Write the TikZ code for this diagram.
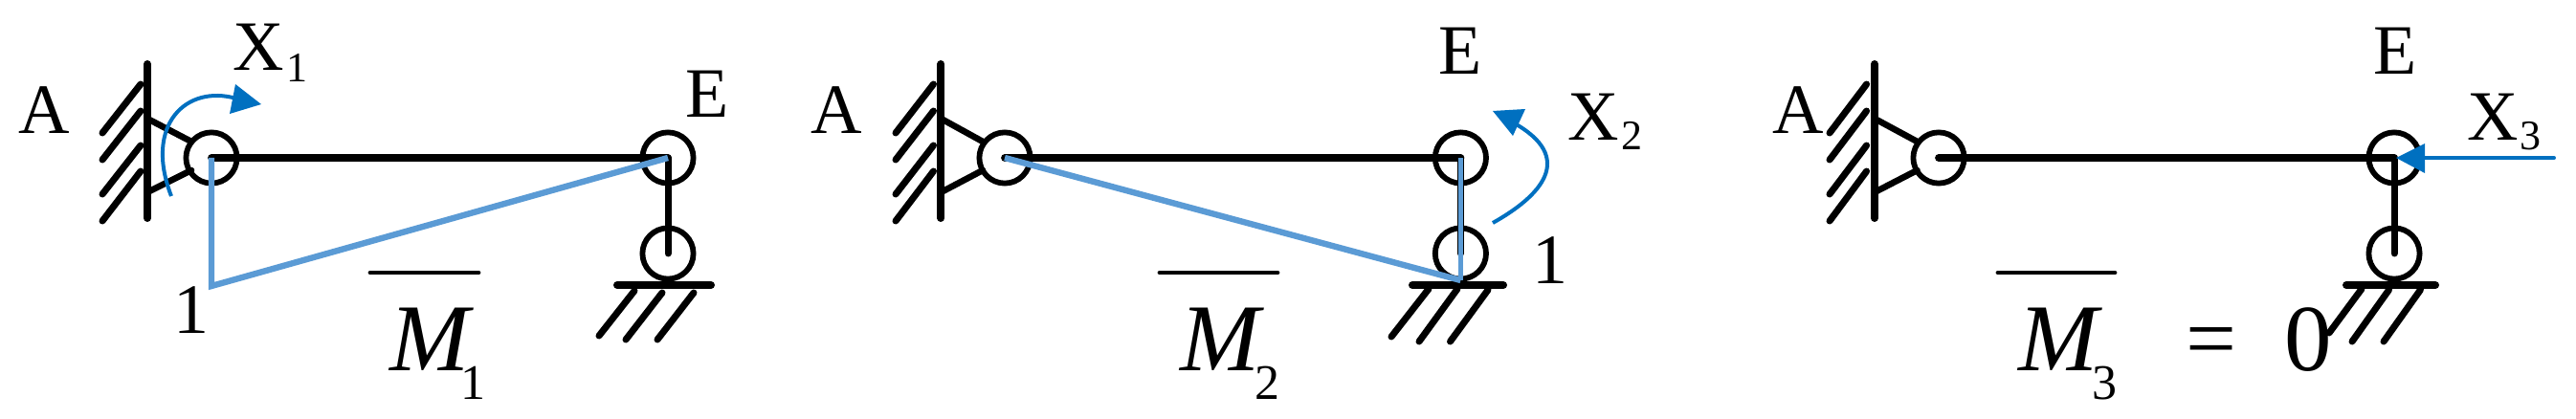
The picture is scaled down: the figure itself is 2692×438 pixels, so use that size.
\documentclass[tikz,border=0pt]{standalone}
\usepackage{fontspec}
\setmainfont{Liberation Serif}
\definecolor{mline}{HTML}{5B9BD5}
\definecolor{force}{HTML}{0070C0}
\newcommand{\panelframe}[9]{%
  % #1 tag, #2 wall x, #3 hatch top x, #4 hatch bottom x, #5 link end x, #6 hinge A x, #7 E x, #8 base left, #9 base right
  \draw[wallline] (#2,67) -- (#2,228);
  \draw[hatchline] (#3,88) -- (#4,139);
  \draw[hatchline] (#3,116) -- (#4,167);
  \draw[hatchline] (#3,152) -- (#4,203);
  \draw[hatchline] (#3,179) -- (#4,231);
  \node[hinge] (a#1) at (#6,165) {};
  \node[hinge] (e#1) at (#7,165) {};
  \node[hinge] (r#1) at (#7,265) {};
  \draw[linkline] (#2,124) -- (#5,148);
  \draw[linkline] (#2,201) -- (#5,178);
  \draw[beamline] (a#1.center) -- (e#1.center);
  \draw[hatchline] (e#1.center) -- (r#1.center);
  \draw[wallline] (#8,298) -- (#9,298);
}
% M with its lowered index: #1 kern, #2 index
\newcommand{\momentname}[2]{\textit{M}\kern#1\raisebox{-15pt}{\fontsize{26}{26}\selectfont #2}}
\tikzset{
  x=0.5pt,y=-0.5pt,
  wallline/.style={line width=4pt,line cap=round,black},
  linkline/.style={line width=3.3pt,line cap=round,black},
  hatchline/.style={line width=3.5pt,line cap=round,black},
  beamline/.style={line width=3.9pt,line cap=round,black},
  hinge/.style={circle,draw=black,line width=2.9pt,minimum size=26.6pt,inner sep=0pt},
  bline/.style={line width=3.2pt,mline,line join=miter},
  fshaft/.style={line width=2pt,force},
  ftip/.style={fill=force,draw=none},
  barline/.style={line width=2.4pt,line cap=round,black},
  big/.style={anchor=base,inner sep=0pt,font=\fontsize{37}{37}\selectfont},
  sub/.style={anchor=base,inner sep=0pt,font=\fontsize{22}{22}\selectfont},
  mm/.style={anchor=base west,inner sep=0pt,font=\fontsize{50}{50}\selectfont},
  huge0/.style={anchor=base,inner sep=0pt,font=\fontsize{49.5}{50}\selectfont},
  eqsign/.style={anchor=base,inner sep=0pt,font=\fontsize{47}{47}\selectfont},
}
\begin{document}
\begin{tikzpicture}
\useasboundingbox (0,0) rectangle (2692,438);
% panel 1
\panelframe{1}{154}{147}{107}{200}{221}{698}{645}{743}
\draw[hatchline] (663,304) -- (626,351);
\draw[hatchline] (692,306) -- (654,355);
\draw[hatchline] (725,306) -- (687,355);
\coordinate (c1) at (221,299);
\draw[bline] (a1.center) -- (c1) -- (e1.center);
\coordinate (s1) at (179,205);
\coordinate (t1) at (247,103);
\draw[fshaft] (s1) .. controls (150,130) and (195,88) .. (t1);
\fill[ftip] (246,88) -- (273,109) -- (240,119) -- cycle;
\node[big] (la1) at (46,140) {A};
\node[big] (lx1) at (270,74) {X};
\node[sub] (sx1) at (310,86) {1};
\node[big] (le1) at (739.5,123) {E};
\node[big] (one1) at (200,348) {1};
\coordinate (b1l) at (387,285); \coordinate (b1r) at (500,285);
\draw[barline] (b1l) -- (b1r);
\node[mm] (m1) at (407,387) {\momentname{-7pt}{1}};
% panel 2
\panelframe{2}{983.4}{975.5}{936}{1027}{1050}{1526.4}{1476}{1571}
\draw[hatchline] (1493,302) -- (1454,352);
\draw[hatchline] (1523,302) -- (1483,357);
\draw[hatchline] (1555,303) -- (1515.5,357);
\coordinate (c2) at (1526.4,293);
\draw[bline] (a2.center) -- (c2);
\draw[mline,line width=2.4pt] (c2) -- (e2.center);
\coordinate (s2) at (1560,233);
\coordinate (t2) at (1581,128);
\draw[fshaft] (s2) .. controls (1610,205) and (1648,165) .. (t2);
\fill[ftip] (1560,116) -- (1594,114) -- (1581,142) -- cycle;
\node[big] (la2) at (874.5,140) {A};
\node[big] (le2) at (1526,77.5) {E};
\node[big] (lx2) at (1665.6,147) {X};
\node[sub] (sx2) at (1705,157) {2};
\node[big] (one2) at (1620,296) {1};
\coordinate (b2l) at (1212,285); \coordinate (b2r) at (1335,285);
\draw[barline] (b2l) -- (b2r);
\node[mm] (m2) at (1233,387) {\momentname{-5pt}{2}};
% panel 3
\panelframe{3}{1959}{1950.6}{1912}{2003.5}{2026}{2502}{2452}{2545}
\draw[hatchline] (2468,302) -- (2434,348);
\draw[hatchline] (2496.5,303) -- (2458,357);
\draw[hatchline] (2529.4,303) -- (2491,357);
\coordinate (s3) at (2669,165);
\coordinate (t3) at (2530,165);
\draw[fshaft,line cap=round] (s3) -- (t3);
\fill[ftip] (2504,165) -- (2534,150) -- (2534,181) -- cycle;
\node[big] (la3) at (1879.6,140) {A};
\node[big] (le3) at (2503,78) {E};
\node[big] (lx3) at (2605,147) {X};
\node[sub] (sx3) at (2644,157) {3};
\coordinate (b3l) at (2088,285); \coordinate (b3r) at (2210,285);
\draw[barline] (b3l) -- (b3r);
\node[mm] (m3) at (2109,387) {\momentname{-5.5pt}{3}};
\node[eqsign] (eq3) at (2310.5,385.5) {=};
\node[huge0] (zero3) at (2412,387) {0};
\end{tikzpicture}
\end{document}
